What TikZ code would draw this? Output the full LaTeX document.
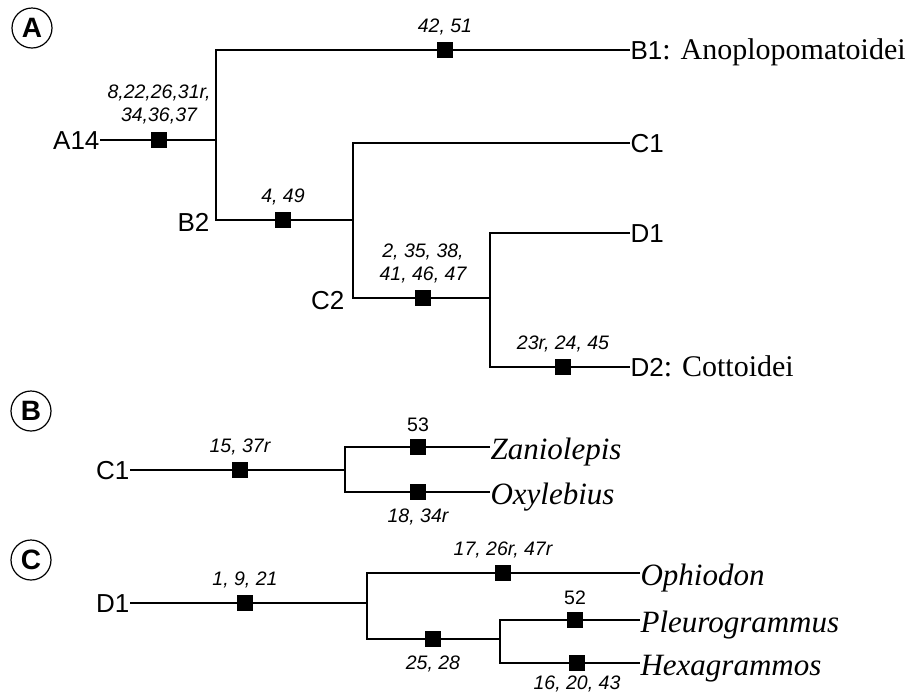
\documentclass[tikz,border=0pt]{standalone}
\usepackage{fontspec}
\setmainfont{Liberation Serif}
\setsansfont{Liberation Sans}
\usetikzlibrary{positioning}

\begin{document}
\begin{tikzpicture}[
		x=1pt, y=-1pt,
		line width=1.1pt,
		every node/.style = {inner sep=0pt},
		clade/.style = {font=\fontsize{26}{28}\selectfont\sffamily,
				text height=18.7pt, text depth=0pt},
		taxon/.style = {font=\fontsize{31}{33}\selectfont\rmfamily\itshape,
				anchor=west, text height=24pt, text depth=0pt},
		chars/.style = {font=\fontsize{19.5}{23}\selectfont\sffamily\itshape, align=center},
		synapo/.style = {fill=black, minimum size=16pt},
		panel/.style = {circle, draw, line width=1.2pt, minimum size=40pt,
				font=\fontsize{28}{28}\selectfont\sffamily\bfseries}
	]
	\useasboundingbox (0,0) rectangle (917,697);

	\node[panel] (pa) at (32,28) {A};
	\node[clade, anchor=east] (a14) at (100,140) {A14};
	\node[clade, anchor=west] (b1) at (630,50) {B1\fontsize{30}{32}\selectfont\rmfamily: Anoplopomatoidei};
	\node[clade, anchor=east] (b2) at (210,222) {B2};
	\node[clade, anchor=west] (c1) at (630,143) {C1};
	\node[clade, anchor=east] (c2) at (345,300) {C2};
	\node[clade, anchor=west] (d1) at (630,233) {D1};
	\node[clade, anchor=west] (d2) at (630,367) {D2\fontsize{30}{32}\selectfont\rmfamily: Cottoidei};
	\coordinate (ja) at (216,140);
	\coordinate (jb) at (353,220);
	\coordinate (jc) at (490,298);
	\draw (a14) -- (ja);
	\draw (b1) -| (ja) |- (jb);
	\draw (c1) -| (jb) |- (jc);
	\draw (d1) -| (jc) |- (d2);
	\node[synapo] (s1) at (159,140) {};
	\node[chars, above=7pt of s1] (l1) {8,22,26,31r,\\34,36,37};
	\node[synapo] (s2) at (445,50) {};
	\node[chars, above=6pt of s2] (l2) {42, 51};
	\node[synapo] (s3) at (283,220) {};
	\node[chars, above=6pt of s3] (l3) {4, 49};
	\node[synapo] (s4) at (423,298) {};
	\node[chars, above=6pt of s4] (l4) {2, 35, 38,\\41, 46, 47};
	\node[synapo] (s5) at (563,367) {};
	\node[chars, above=6pt of s5] (l5) {23r, 24, 45};

	\node[panel] (pb) at (31,411) {B};
	\node[clade, anchor=east] (c1b) at (130,470) {C1};
	\node[taxon] (zan) at (490,447) {Zaniolepis};
	\node[taxon] (oxy) at (490,492) {Oxylebius};
	\coordinate (jd) at (345,470);
	\draw (c1b) -- (jd);
	\draw (zan) -| (jd) |- (oxy);
	\node[synapo] (s6) at (240,470) {};
	\node[chars, above=6pt of s6] (l6) {15, 37r};
	\node[synapo] (s7) at (418,447) {};
	\node[chars, above=6pt of s7] (l7) {\upshape 53};
	\node[synapo] (s8) at (418,492) {};
	\node[chars, below=8pt of s8] (l8) {18, 34r};

	\node[panel] (pc) at (31,560) {C};
	\node[clade, anchor=east] (d1c) at (130,603) {D1};
	\node[taxon] (oph) at (640,573) {Ophiodon};
	\node[taxon] (ple) at (640,620) {Pleurogrammus};
	\node[taxon] (hex) at (640,663) {Hexagrammos};
	\coordinate (je) at (367,603);
	\coordinate (jf) at (500,639);
	\draw (d1c) -- (je);
	\draw (oph) -| (je) |- (jf);
	\draw (ple) -| (jf) |- (hex);
	\node[synapo] (s9) at (245,603) {};
	\node[chars, above=6pt of s9] (l9) {1, 9, 21};
	\node[synapo] (s10) at (503,573) {};
	\node[chars, above=6pt of s10] (l10) {17, 26r, 47r};
	\node[synapo] (s11) at (433,639) {};
	\node[chars, below=8pt of s11] (l11) {25, 28};
	\node[synapo] (s12) at (575,620) {};
	\node[chars, above=6pt of s12] (l12) {\upshape 52};
	\node[synapo] (s13) at (577,663) {};
	\node[chars, below=4pt of s13] (l13) {16, 20, 43};
\end{tikzpicture}
\end{document}
